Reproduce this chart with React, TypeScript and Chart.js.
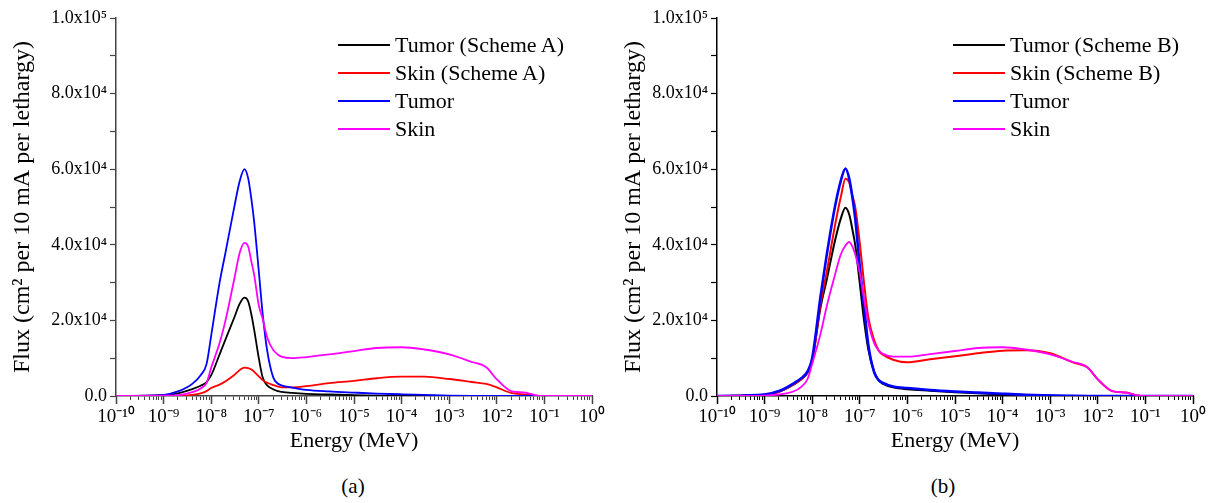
import React, { useEffect, useRef } from 'react';
import { Chart, registerables } from 'chart.js';

Chart.register(...registerables);

// ---------- data ----------
const energyMeV = [
  1e-10, 1e-9, 2e-9, 4e-9, 6e-9, 8e-9, 1e-8, 1.5e-8, 2e-8, 3e-8,
  4e-8, 5e-8, 6e-8, 7e-8, 8e-8, 1e-7, 1.2e-7, 1.5e-7, 2e-7, 2.5e-7,
  3e-7, 5e-7, 1e-6, 3e-6, 1e-5, 3e-5, 1e-4, 3e-4, 1e-3, 3e-3,
  6e-3, 1e-2, 2e-2, 4e-2, 6e-2, 8e-2, 1e-1, 1,
];

// panel (a)
const tumorSchemeA = [
  0, 200, 700, 1800, 2700, 3700, 5500, 11000, 15000, 20500,
  24500, 26000, 25000, 21500, 17500, 10000, 5000, 2800, 1800, 1300,
  1100, 800, 550, 400, 250, 80, 0, 0, 0, 0,
  0, 0, 0, 0, 0, 0, 0, 0,
];
const skinSchemeA = [
  0, 0, 0, 300, 700, 1300, 2100, 3000, 3900, 5500,
  6900, 7500, 7400, 7000, 6400, 5200, 4200, 3500, 2900, 2500,
  2300, 2300, 2600, 3400, 4000, 4700, 5100, 5100, 4500, 3700,
  3200, 2300, 800, 400, 150, 0, 0, 0,
];
const tumorA = [
  0, 300, 1200, 3200, 5500, 8500, 16000, 30000, 38000, 49500,
  57000, 60000, 57500, 52000, 46000, 33000, 22000, 12000, 5000, 3300,
  2800, 2200, 1600, 1200, 900, 650, 450, 300, 120, 30,
  0, 0, 0, 0, 0, 0, 0, 0,
];
const skinA = [
  0, 100, 200, 1000, 2000, 3500, 7500, 14000, 20000, 30500,
  38000, 40500, 39500, 35500, 32000, 24000, 20500, 15500, 12200, 11000,
  10400, 10000, 10300, 11000, 11900, 12700, 12900, 12300, 11000, 9000,
  7600, 4400, 1300, 900, 300, 0, 0, 0,
];

// panel (b)
const tumorSchemeB = [
  0, 300, 1100, 3000, 4500, 6200, 9500, 23500, 30500, 41000,
  47000, 49800, 48000, 44000, 40000, 29800, 21000, 12500, 6400, 4100,
  3300, 2300, 1800, 1400, 1000, 700, 450, 250, 100, 0,
  0, 0, 0, 0, 0, 0, 0, 0,
];
const skinSchemeB = [
  0, 300, 1100, 3000, 4500, 6200, 9000, 24500, 32500, 45000,
  52700, 57500, 56500, 53000, 50000, 40400, 31000, 21000, 14800, 12000,
  11000, 9600, 8900, 9700, 10500, 11300, 12000, 12100, 11300, 8900,
  7600, 4400, 1300, 900, 300, 0, 0, 0,
];
const tumorB = [
  0, 400, 1300, 3300, 4800, 6500, 10000, 26500, 37000, 50000,
  57000, 60200, 57500, 52500, 47000, 34200, 25000, 13800, 6300, 4200,
  3500, 2500, 2100, 1600, 1200, 900, 600, 350, 150, 30,
  0, 0, 0, 0, 0, 0, 0, 0,
];
const skinB = [
  0, 100, 400, 1200, 2500, 4500, 8500, 16500, 23500, 32000,
  37500, 39800, 40800, 39500, 37500, 32500, 26500, 19500, 14000, 12000,
  11200, 10400, 10400, 11100, 11900, 12700, 12900, 12300, 11000, 9000,
  7600, 4400, 1300, 900, 300, 0, 0, 0,
];

const decadeTicks = [1e-10, 1e-9, 1e-8, 1e-7, 1e-6, 1e-5, 1e-4, 1e-3, 1e-2, 1e-1, 1];
const minorMultipliers = [1, 2, 3, 4, 5, 6, 7, 8, 9];
const yTickValues = [0, 10000, 20000, 30000, 40000, 50000, 60000, 70000, 80000, 90000, 100000];
const yTickLabels = ['0.0', '', '2.0x10⁴', '', '4.0x10⁴', '', '6.0x10⁴', '', '8.0x10⁴', '', '1.0x10⁵'];

const legendA = ['Tumor (Scheme A)', 'Skin (Scheme A)', 'Tumor', 'Skin'];
const legendB = ['Tumor (Scheme B)', 'Skin (Scheme B)', 'Tumor', 'Skin'];
const seriesColors = ['#000000', '#ff0000', '#0000ff', '#ff00ff'];

// ---------- helpers ----------
const SERIF = '"Liberation Serif", "Times New Roman", serif';
const SUP: Record<string, string> = {
  '-': '⁻', '0': '⁰', '1': '¹', '2': '²', '3': '³', '4': '⁴', '5': '⁵', '6': '⁶', '7': '⁷', '8': '⁸', '9': '⁹',
};
const sup = (s: string) => s.split('').map((c) => SUP[c] ?? c).join('');

const minorTickValues: number[] = [];
decadeTicks.slice(0, -1).forEach((d) => minorMultipliers.forEach((m) => minorTickValues.push(d * m)));
minorTickValues.push(1);

const CANVAS_H = 470;
const PLOT_TOP = 18;
const PLOT_BOTTOM = 396;

type PanelProps = {
  left: number;
  width: number;
  padLeft: number;
  padRight: number;
  yWidth: number;
  axisColor: string;
  series: number[][];
  names: string[];
  widths: number[];
};

function Panel(props: PanelProps) {
  const ref = useRef<HTMLCanvasElement>(null);
  useEffect(() => {
    const canvas = ref.current;
    if (!canvas) return;
    const ac = props.axisColor;
    const orders = [3, 2, 1, 0];
    const chart = new Chart(canvas, {
      type: 'line',
      data: {
        datasets: props.series.map((vals, i) => ({
          label: props.names[i],
          data: energyMeV.map((e, k) => ({ x: e, y: vals[k] })),
          borderColor: seriesColors[i],
          backgroundColor: seriesColors[i],
          borderWidth: props.widths[i],
          pointRadius: 0,
          cubicInterpolationMode: 'monotone',
          fill: false,
          order: orders[i],
        })),
      },
      options: {
        animation: false,
        responsive: false,
        maintainAspectRatio: false,
        layout: { padding: { left: props.padLeft, right: props.padRight, top: PLOT_TOP, bottom: 0 } },
        plugins: { legend: { display: false }, tooltip: { enabled: false } },
        scales: {
          x: {
            type: 'logarithmic',
            min: 1e-10,
            max: 1,
            position: 'bottom',
            weight: 0,
            afterBuildTicks: (s: any) => {
              s.ticks = minorTickValues.map((v) => ({ value: v }));
            },
            afterFit: (s: any) => {
              s.height = 0;
            },
            ticks: { display: false, autoSkip: false },
            grid: { drawOnChartArea: false, drawTicks: true, tickLength: 4, tickColor: ac, tickWidth: 1 },
            border: { display: true, color: ac, width: 1.5 },
          },
          xMajor: {
            type: 'logarithmic',
            min: 1e-10,
            max: 1,
            position: 'bottom',
            weight: 1,
            afterBuildTicks: (s: any) => {
              s.ticks = decadeTicks.map((v) => ({ value: v }));
            },
            afterFit: (s: any) => {
              s.height = CANVAS_H - PLOT_BOTTOM;
            },
            ticks: {
              autoSkip: false,
              maxRotation: 0,
              minRotation: 0,
              padding: 2,
              color: '#000',
              font: { family: SERIF, size: 19 },
              callback: (v: any) => '10' + sup(String(Math.round(Math.log10(Number(v))))),
            },
            grid: { drawOnChartArea: false, drawTicks: true, tickLength: 8, tickColor: ac, tickWidth: 1.5 },
            border: { display: false },
            title: {
              display: true,
              text: 'Energy (MeV)',
              color: '#000',
              font: { family: SERIF, size: 22 },
              padding: { top: 0, bottom: 16 },
            },
          },
          y: {
            type: 'linear',
            min: 0,
            max: 100000,
            position: 'left',
            afterBuildTicks: (s: any) => {
              s.ticks = yTickValues.map((v) => ({ value: v }));
            },
            afterFit: (s: any) => {
              s.width = props.yWidth;
            },
            ticks: {
              autoSkip: false,
              padding: 3,
              color: '#000',
              font: { family: SERIF, size: 18 },
              callback: (_v: any, i: number) => yTickLabels[i],
            },
            grid: { drawOnChartArea: false, drawTicks: true, tickLength: 6, tickColor: ac, tickWidth: 1.2 },
            border: { display: true, color: ac, width: 1.5 },
            title: {
              display: true,
              text: 'Flux (cm² per 10 mA per lethargy)',
              color: '#000',
              font: { family: SERIF, size: 24 },
              padding: { top: 0, bottom: 0 },
            },
          },
        },
      } as any,
    });
    return () => chart.destroy();
  }, []);

  return (
    <div style={{ position: 'absolute', left: props.left, top: 0, width: props.width, height: CANVAS_H }}>
      <canvas ref={ref} width={props.width} height={CANVAS_H} style={{ width: props.width, height: CANVAS_H }} />
    </div>
  );
}

function Legend({ x, names }: { x: number; names: string[] }) {
  const rows = [45, 73, 101, 129];
  return (
    <>
      {names.map((n, i) => (
        <div key={n + i} style={{ position: 'absolute', left: x, top: rows[i] - 13, height: 26, display: 'flex', alignItems: 'center', whiteSpace: 'nowrap' }}>
          <div style={{ width: 52, height: 0, borderTop: `2px solid ${seriesColors[i]}`, marginRight: 5 }} />
          <span style={{ fontFamily: SERIF, fontSize: 22, color: '#000', lineHeight: '26px' }}>{n}</span>
        </div>
      ))}
    </>
  );
}

export default function App() {
  return (
    <div style={{ position: 'absolute', left: 0, top: 0, width: 1215, height: 503, background: '#fff', overflow: 'hidden' }}>
      <Panel
        left={0}
        width={607}
        padLeft={8}
        padRight={14}
        yWidth={108}
        axisColor="#444"
        series={[tumorSchemeA, skinSchemeA, tumorA, skinA]}
        names={legendA}
        widths={[1.8, 1.8, 1.8, 1.8]}
      />
      <Panel
        left={607}
        width={608}
        padLeft={12}
        padRight={22}
        yWidth={98}
        axisColor="#000"
        series={[tumorSchemeB, skinSchemeB, tumorB, skinB]}
        names={legendB}
        widths={[2, 2, 2.6, 1.8]}
      />
      <Legend x={338} names={legendA} />
      <Legend x={953} names={legendB} />
      <div style={{ position: 'absolute', left: 303, width: 100, top: 474, textAlign: 'center', fontFamily: SERIF, fontSize: 21 }}>(a)</div>
      <div style={{ position: 'absolute', left: 893, width: 100, top: 474, textAlign: 'center', fontFamily: SERIF, fontSize: 21 }}>(b)</div>
    </div>
  );
}
